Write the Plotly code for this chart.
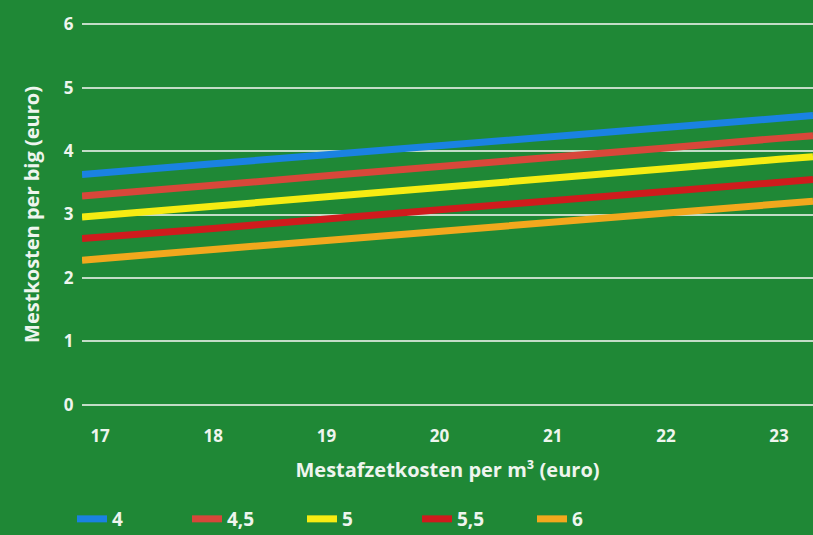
import plotly.graph_objects as go

# Mestafzetkosten per m3 (euro) - positions where values were read (incl. visible line ends)
x_values = [16.84, 17, 18, 19, 20, 21, 22, 23, 23.3]

series_names = ["4", "4,5", "5", "5,5", "6"]
series_4 = [3.63, 3.65, 3.80, 3.94, 4.09, 4.23, 4.37, 4.52, 4.56]
series_4_5 = [3.29, 3.31, 3.46, 3.61, 3.75, 3.90, 4.05, 4.20, 4.24]
series_5 = [2.96, 2.98, 3.13, 3.28, 3.42, 3.57, 3.72, 3.87, 3.91]
series_5_5 = [2.62, 2.64, 2.78, 2.93, 3.07, 3.22, 3.36, 3.51, 3.55]
series_6 = [2.28, 2.30, 2.45, 2.59, 2.73, 2.88, 3.02, 3.16, 3.21]

x_ticks = [17, 18, 19, 20, 21, 22, 23]
y_ticks = [0, 1, 2, 3, 4, 5, 6]

colors = ["#1a82e2", "#d8473a", "#f6ec12", "#cf1b1d", "#f2a81d"]
all_series = [series_4, series_4_5, series_5, series_5_5, series_6]

BG = "#1f8836"
FONT = "Open Sans"
TXT = "#eef5ee"

fig = go.Figure()
for name, vals, col in zip(series_names, all_series, colors):
    fig.add_trace(go.Scatter(
        x=x_values, y=vals, mode="lines", name=name,
        line=dict(color=col, width=7),
        hoverinfo="skip",
    ))

fig.update_layout(
    width=813, height=535,
    margin=dict(l=82, r=0, t=21, b=127),
    paper_bgcolor=BG, plot_bgcolor=BG,
    font=dict(family=FONT, color=TXT, size=15),
    showlegend=True,
    legend=dict(
        orientation="h",
        x=72 / 813, xref="container", xanchor="left",
        y=16 / 535, yref="container", yanchor="middle",
        bgcolor="rgba(0,0,0,0)",
        font=dict(family=FONT, size=19, color=TXT, weight="bold"),
        entrywidth=70, entrywidthmode="pixels",
        traceorder="normal",
    ),
    xaxis=dict(
        range=[16.84, 23.3],
        tickmode="array", tickvals=x_ticks, ticktext=[str(v) for v in x_ticks],
        showgrid=False, zeroline=False, showline=False,
        ticks="outside", ticklen=13, tickcolor="rgba(0,0,0,0)",
        tickfont=dict(family=FONT, size=17, color=TXT, weight="bold"),
        title=dict(text="Mestafzetkosten per m³ (euro)", standoff=16,
                   font=dict(family=FONT, size=20, color=TXT, weight="bold")),
    ),
    yaxis=dict(
        range=[-0.05, 6.05],
        tickmode="array", tickvals=y_ticks, ticktext=[str(v) for v in y_ticks],
        showgrid=True, gridcolor="rgba(225,235,225,0.85)", gridwidth=2,
        zeroline=False, showline=False,
        ticks="outside", ticklen=4, tickcolor="rgba(0,0,0,0)",
        tickfont=dict(family=FONT, size=17, color=TXT, weight="bold"),
        title=dict(text="Mestkosten per big (euro)", standoff=18,
                   font=dict(family=FONT, size=20, color=TXT, weight="bold")),
    ),
)

fig.write_html("out.html", config={"displayModeBar": False},
               post_script="document.body.style.margin='0';document.body.style.overflow='hidden';")
